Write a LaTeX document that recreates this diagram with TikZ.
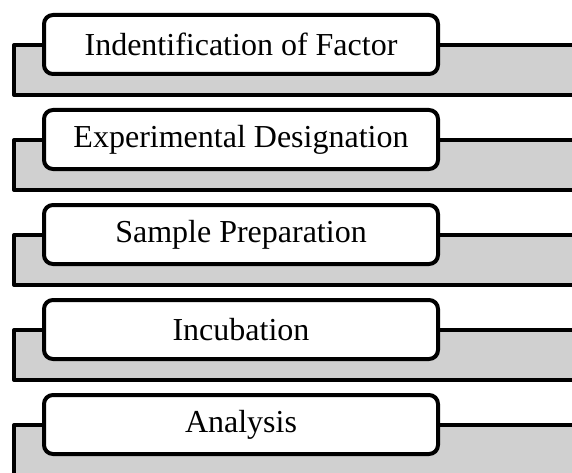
\documentclass[tikz,border=0pt]{standalone}
\usepackage{fontspec}
\setmainfont{Liberation Serif}
\begin{document}
\begin{tikzpicture}[x=1pt,y=-1pt,
  panel/.style={draw=black,fill=panelgray,line width=4pt,line join=round},
  stepbox/.style={draw=black,fill=white,line width=4pt,rounded corners=9pt,
    minimum width=394pt,minimum height=59pt,inner sep=0pt,
    font=\fontsize{32}{38}\selectfont}]
\definecolor{panelgray}{HTML}{D0D0D0}
\useasboundingbox (0,0) rectangle (572,473);
\clip (0,0) rectangle (572,473);
\foreach \t [count=\i from 0] in {Indentification of Factor,Experimental Designation,Sample Preparation,Incubation,Analysis}{
  \draw[panel] (14,45+95*\i) rectangle (600,95+95*\i);
  \node[stepbox] (s\i) at (241,44.5+95*\i) {\t};
}
\end{tikzpicture}
\end{document}
